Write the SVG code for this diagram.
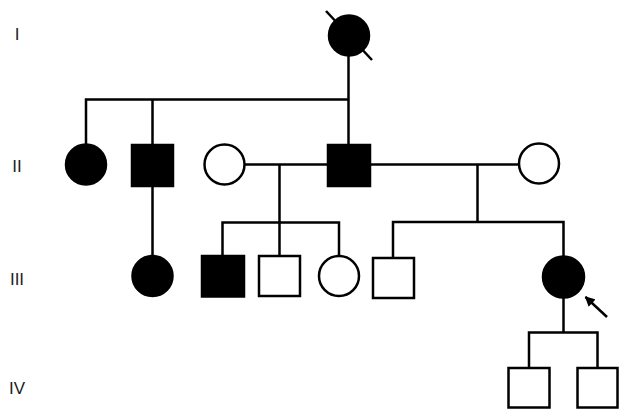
<svg xmlns="http://www.w3.org/2000/svg" width="628" height="418" viewBox="0 0 628 418">
<style>
.a{fill:#000;stroke:#000;stroke-width:2.5}
.u{fill:#fff;stroke:#000;stroke-width:2.5}
.c line,.c polyline{stroke:#000;stroke-width:2.5;fill:none}
.g{font-family:"Liberation Sans",Arial,sans-serif;font-size:17px;fill:#222;text-anchor:middle}
</style>
<defs>
<marker id="ah" markerWidth="10" markerHeight="10" refX="9" refY="5" orient="auto" markerUnits="userSpaceOnUse">
<path d="M0,0 L10,5 L0,10 Z" fill="#000"/>
</marker>
</defs>
<g id="labels">
<text class="g" x="17" y="40">I</text>
<text class="g" x="17" y="172">II</text>
<text class="g" x="17" y="285">III</text>
<text class="g" x="17" y="394">IV</text>
</g>
<g class="c" id="connectors">
<line x1="348.5" y1="55" x2="348.5" y2="145"/>
<polyline points="86,144 86,99.5 348.5,99.5"/>
<line x1="152.5" y1="99.5" x2="152.5" y2="145"/>
<line x1="152.5" y1="186" x2="152.5" y2="256"/>
<line x1="245" y1="164.5" x2="328" y2="164.5"/>
<line x1="370" y1="164.5" x2="518" y2="164.5"/>
<line x1="279.5" y1="164.5" x2="279.5" y2="222.5"/>
<polyline points="222.5,256 222.5,222.5 339,222.5 339,256"/>
<line x1="279.5" y1="222.5" x2="279.5" y2="256"/>
<line x1="477.5" y1="164.5" x2="477.5" y2="222"/>
<polyline points="393,258 393,222 563.5,222 563.5,257"/>
<line x1="563.5" y1="297" x2="563.5" y2="332.5"/>
<polyline points="529,368 529,332.5 597.5,332.5 597.5,368"/>
<line x1="607" y1="317" x2="585.5" y2="297" marker-end="url(#ah)"/>
</g>
<g id="I-1"><circle class="a" cx="349" cy="35.5" r="20"/><line x1="326" y1="11" x2="372" y2="60" stroke="#000" stroke-width="2.5"/></g>
<g id="II-1"><circle class="a" cx="86" cy="164.5" r="20"/></g>
<g id="II-2"><rect class="a" x="132" y="145" width="41" height="41"/></g>
<g id="II-3"><circle class="u" cx="224.5" cy="164.5" r="20"/></g>
<g id="II-4"><rect class="a" x="328" y="145" width="42" height="41"/></g>
<g id="II-5"><circle class="u" cx="539" cy="163.5" r="20"/></g>
<g id="III-1"><circle class="a" cx="152.5" cy="276" r="20"/></g>
<g id="III-2"><rect class="a" x="202" y="256" width="42" height="40.5"/></g>
<g id="III-3"><rect class="u" x="259" y="256" width="41" height="40"/></g>
<g id="III-4"><circle class="u" cx="339" cy="276" r="20"/></g>
<g id="III-5"><rect class="u" x="373" y="258" width="41" height="40"/></g>
<g id="III-6"><circle class="a" cx="563.5" cy="277" r="20.5"/></g>
<g id="IV-1"><rect class="u" x="508.5" y="368" width="41" height="39.5"/></g>
<g id="IV-2"><rect class="u" x="577.5" y="368" width="40" height="39.5"/></g>
</svg>
